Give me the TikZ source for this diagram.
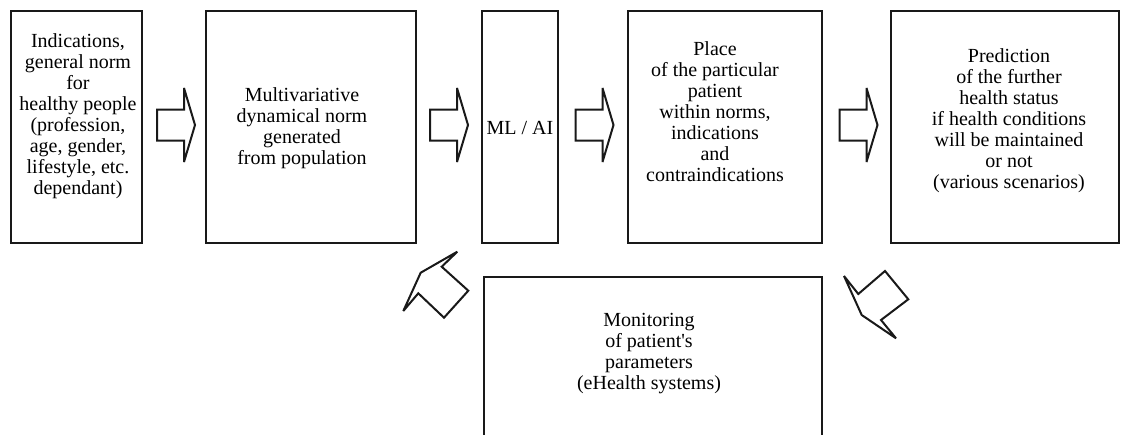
\documentclass[tikz,border=0pt]{standalone}
\usepackage{fontspec}
\setmainfont{Liberation Serif}
\usetikzlibrary{calc}
\begin{document}
\begin{tikzpicture}[x=1pt,y=-1pt,
  box/.style={draw=black!90, line width=2pt, rectangle, inner sep=0pt},
  txt/.style={align=center, inner sep=0pt, font=\fontsize{20}{21}\selectfont},
  blk/.style={draw=black!90, line width=2pt, line join=miter, miter limit=6, fill=white},
  rarrow/.pic={\draw[blk] (-19,-15.5) -- (8,-15.5) -- (8,-37) -- (19,0) -- (8,37) -- (8,15.5) -- (-19,15.5) -- cycle;}
]
\useasboundingbox (0,0) rectangle (1122,434);
\clip (0,0) rectangle (1122,434);
% boxes
\node[box, minimum width=131pt, minimum height=232pt] (b1) at (76.5,127) {};
\node[box, minimum width=210pt, minimum height=232pt] (b2) at (311,127) {};
\node[box, minimum width=76pt, minimum height=232pt] (b3) at (520,127) {};
\node[box, minimum width=194pt, minimum height=232pt] (b4) at (725,127) {};
\node[box, minimum width=228pt, minimum height=232pt] (b5) at (1005,127) {};
\node[box, minimum width=338pt, minimum height=173pt] (b6) at (653,363.5) {};
% texts
\node[txt] (t1) at (78,116) {Indications,\\general norm\\for\\healthy people\\(profession,\\age, gender,\\lifestyle, etc.\\dependant)};
\node[txt] (t2) at (302,128) {Multivariative\\dynamical norm\\generated\\from population};
\node[txt] (t3) at (520,128) {ML / AI};
\node[txt] (t4) at (715,112) {Place\\of the particular\\patient\\within norms,\\indications\\and\\contraindications};
\node[txt] (t5) at (1009,121) {Prediction\\of the further\\health status\\if health conditions\\will be maintained\\or not\\(various scenarios)};
\node[txt] (t6) at (649,354) {Monitoring\\of patient\textquotesingle s\\parameters\\(eHealth systems)};
% block arrows
\pic at ($(b1.east)!0.5!(b2.west)+(2,-2)$) {rarrow};
\pic at ($(b2.east)!0.5!(b3.west)+(0,-2)$) {rarrow};
\pic at ($(b3.east)!0.5!(b4.west)+(1.5,-2)$) {rarrow};
\pic at ($(b4.east)!0.5!(b5.west)+(2,-2)$) {rarrow};
% bent block arrows
\draw[blk] (420.7,272.7) -- (457.3,251.7) -- (441.7,266.7) -- (468.3,290.7) -- (444,317.7) -- (418.3,293.3) -- (403.3,311) -- cycle;
\draw[blk] (844,276) -- (858.3,294) -- (885,271) -- (908.3,299.3) -- (881,320) -- (896,338.3) -- (861.7,315) -- cycle;
\end{tikzpicture}
\end{document}
